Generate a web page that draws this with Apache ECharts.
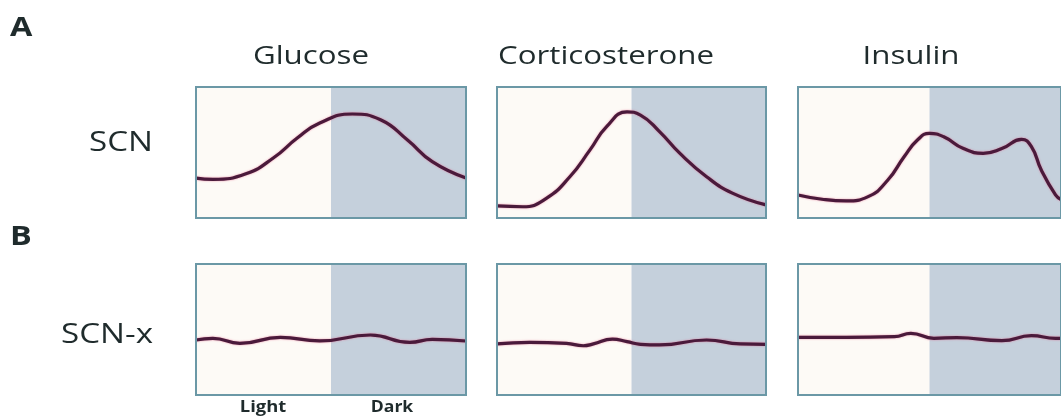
<!DOCTYPE html>
<html>
<head>
<meta charset="utf-8">
<script src="https://cdn.jsdelivr.net/npm/echarts@6/dist/echarts.min.js"></script>
<style>
html,body{margin:0;padding:0;background:#ffffff;}
#chart{width:1061px;height:417px;}
</style>
</head>
<body>
<div id="chart"></div>
<script>
// Time of day in hours (0-12 light, 12-24 dark) and relative level (0-100)

// Row A: SCN
var glucoseSCNHours = [0,1.5,4.5,6.9,9,11,13.9,16.4,18.8,21,24];
var glucoseSCN      = [30.5,29.5,34,46,61,72.5,79.4,75,59.5,43,30.5];
var corticoSCNHours = [0,2.3,4.4,6.5,8.3,9.8,11.6,12.8,14.5,16.3,18.7,21,24];
var corticoSCN      = [9.2,8.6,15,31.5,52,70,81,78.6,66,49.5,31.5,19,10];
var insulinSCNHours = [0,2.2,4.4,6.4,8.2,9.7,10.9,12,13.3,15.1,16.9,18.6,20.4,21.3,22.2,23.5,24];
var insulinSCN      = [17.6,14.3,13,16.3,29,47,59.5,64.6,62,53,49.4,53,60,54.4,36.6,17.6,14];

// Row B: SCN-x
var glucoseSCNxHours = [0,1.5,3.9,7.5,11,15.5,19,21,24];
var glucoseSCNx      = [42,43.3,39.4,44,41.3,45.8,40.2,42.5,41.2];
var corticoSCNxHours = [0,2.9,6.2,7.7,8.6,10.3,11.6,12.8,14.5,18.7,21.7,24];
var corticoSCNx      = [39,40.2,39.4,37.6,39,42.7,40.7,38.7,38.2,42,39,38.7];
var insulinSCNxHours = [0,4.4,8.8,10.3,12.4,14.5,18.6,21.3,23.5,24];
var insulinSCNx      = [44,44,44.5,47,43.3,43.8,41.5,45.3,43.3,43.3];

var columnTitles = ['Glucose','Corticosterone','Insulin'];
var rowLabels = ['SCN','SCN-x'];
var panelLetters = ['A','B'];
var phaseLabels = ['Light','Dark'];
var phaseBounds = [0,12,24];

var rows = [
  [[glucoseSCNHours, glucoseSCN], [corticoSCNHours, corticoSCN], [insulinSCNHours, insulinSCN]],
  [[glucoseSCNxHours, glucoseSCNx], [corticoSCNxHours, corticoSCNx], [insulinSCNxHours, insulinSCNx]]
];

// layout (styling only)
var colLeft = [196, 497, 798];
var colWidth = [270, 269, 269];
var rowTop = [87, 264];
var rowHeight = 131;
var textColor = '#1f2b2c';

var grids = [], xAxes = [], yAxes = [], series = [];
var idx = 0;
for (var r = 0; r < 2; r++) {
  for (var c = 0; c < 3; c++) {
    grids.push({
      left: colLeft[c], top: rowTop[r], width: colWidth[c], height: rowHeight,
      show: true, borderColor: '#6b98a6', borderWidth: 2, backgroundColor: 'transparent', z: 5
    });
    xAxes.push({
      gridIndex: idx, type: 'value', min: phaseBounds[0], max: phaseBounds[2], interval: phaseBounds[1],
      axisLine: {show: false}, axisTick: {show: false}, axisLabel: {show: false},
      splitLine: {show: false},
      splitArea: {show: true, areaStyle: {color: ['#fdfaf6', '#c5d0dc']}}
    });
    yAxes.push({
      gridIndex: idx, type: 'value', min: 0, max: 100,
      axisLine: {show: false}, axisTick: {show: false}, axisLabel: {show: false},
      splitLine: {show: false}
    });
    var xs = rows[r][c][0], ys = rows[r][c][1];
    series.push({
      type: 'line', xAxisIndex: idx, yAxisIndex: idx, z: 3,
      data: xs.map(function (h, i) { return [h, ys[i]]; }),
      smooth: 0.5, symbol: 'none', silent: true,
      lineStyle: {color: '#4a1a3b', width: 3.2, shadowColor: 'rgba(225,90,130,0.7)', shadowBlur: 2}
    });
    idx++;
  }
}

var font = '"Open Sans", sans-serif';
var graphics = [];
function addText(txt, x, y, size, weight, align, sx) {
  graphics.push({
    type: 'text', x: x, y: y, scaleX: sx, silent: true,
    style: {text: txt, fill: textColor, font: weight + ' ' + size + 'px ' + font,
            textAlign: align, textVerticalAlign: 'middle'}
  });
}
var titleCenters = [311, 606, 911];
for (var i = 0; i < 3; i++) addText(columnTitles[i], titleCenters[i], 57, 25, '500', 'center', 1.25);
addText(rowLabels[0], 153, 143, 26.5, '500', 'right', 1.25);
addText(rowLabels[1], 153, 335, 26.5, '500', 'right', 1.25);
addText(panelLetters[0], 10, 28, 27, 'bold', 'left', 1.2);
addText(panelLetters[1], 10, 237, 27, 'bold', 'left', 1.2);
addText(phaseLabels[0], 263, 407, 16, 'bold', 'center', 1.15);
addText(phaseLabels[1], 392, 407, 16, 'bold', 'center', 1.1);

var chart = echarts.init(document.getElementById('chart'), null, {renderer: 'canvas'});
chart.setOption({
  animation: false,
  backgroundColor: '#ffffff',
  grid: grids, xAxis: xAxes, yAxis: yAxes, series: series,
  graphic: graphics
});
</script>
</body>
</html>
